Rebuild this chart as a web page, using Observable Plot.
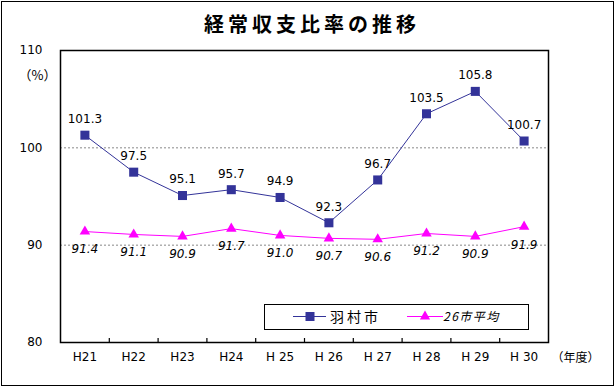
<!DOCTYPE html>
<html><head><meta charset="utf-8">
<script src="https://cdn.jsdelivr.net/npm/d3@7"></script>
<script src="https://cdn.jsdelivr.net/npm/@observablehq/plot@0.6"></script>
<style>
body{margin:0;background:#fff;}
#wrap{position:relative;width:616px;height:389px;overflow:hidden;}
#wrap svg.plot{position:absolute;left:0;top:0;}
#border{position:absolute;left:1px;top:1px;width:613px;height:385px;border:1.5px solid #000;box-sizing:border-box;pointer-events:none;}
#legend{position:absolute;left:264px;top:304px;width:265px;height:26px;border:1.5px solid #000;box-sizing:border-box;background:#fff;}
#title{position:absolute;left:0;width:616px;top:10px;text-align:center;font-family:'Noto Sans CJK JP',sans-serif;font-weight:bold;font-size:20px;letter-spacing:4px;padding-left:8px;box-sizing:border-box;line-height:28px;}
</style></head><body><div id="wrap"><div id="border"></div></div>
<script>
const title = "経常収支比率の推移";
const years = ["H21","H22","H23","H24","H 25","H 26","H 27","H 28","H 29","H 30"];
const hamura = [101.3, 97.5, 95.1, 95.7, 94.9, 92.3, 96.7, 103.5, 105.8, 100.7];
const avg26 = [91.4, 91.1, 90.9, 91.7, 91.0, 90.7, 90.6, 91.2, 90.9, 91.9];
const yTicks = [80, 90, 100, 110];
const gridLines = [90, 100];
const seriesNames = ["羽村市", "26市平均"];
const colors = ["#333399", "#ff00ff"];
const yUnit = "（%）";
const xUnit = "（年度）";

const font = "'DejaVu Sans', 'Noto Sans CJK JP', sans-serif";
const cjk = "'Noto Sans CJK JP', sans-serif";
const dataA = years.map((y, i) => ({i: i + 0.5, v: hamura[i]}));
const dataB = years.map((y, i) => ({i: i + 0.5, v: avg26[i]}));
const bounds = d3.range(1, years.length);

const chart = Plot.plot({
  width: 616, height: 389,
  marginLeft: 60, marginRight: 68, marginTop: 50, marginBottom: 47,
  style: {fontFamily: font, fontSize: "12px", background: "transparent", overflow: "visible"},
  x: {domain: [0, years.length]},
  y: {domain: [80, 110]},
  marks: [
    Plot.ruleY(gridLines, {stroke: "#888", strokeDasharray: "2,2", strokeWidth: 1}),
    Plot.axisY({ticks: yTicks, tickSize: 0, tickPadding: 18, fontSize: 12, label: null, fill: "#000"}),
    Plot.axisX({ticks: bounds, tickSize: -4, tickFormat: () => "", label: null, strokeWidth: 1.2}),
    Plot.axisX({ticks: years.map((y, i) => i + 0.5), tickSize: 0, tickPadding: 10,
      tickFormat: d => years[Math.floor(d)], fontSize: 12, label: null}),
    Plot.frame({stroke: "#000", strokeWidth: 1.5}),
    Plot.line(dataB, {x: "i", y: "v", stroke: colors[1], strokeWidth: 1}),
    Plot.dot(dataB, {x: "i", y: "v", symbol: "triangle", r: 3.9, fill: colors[1], stroke: "none"}),
    Plot.text(dataB, {x: "i", y: "v", text: d => d.v.toFixed(1), dy: 18, fontStyle: "italic", fontSize: 12, fill: "#000"}),
    Plot.line(dataA, {x: "i", y: "v", stroke: colors[0], strokeWidth: 1}),
    Plot.dot(dataA, {x: "i", y: "v", symbol: "square", r: 5.1, fill: colors[0], stroke: "none"}),
    Plot.text(dataA, {x: "i", y: "v", text: d => d.v.toFixed(1), dy: -16, fontSize: 12, fill: "#000"}),
    Plot.text([yUnit], {frameAnchor: "top-left", dx: -4, dy: 20, textAnchor: "end", fontSize: 13, fill: "#000", fontFamily: cjk}),
    Plot.text([xUnit], {frameAnchor: "bottom-right", dx: 3, dy: 16, textAnchor: "start", fontSize: 12, fill: "#000", lineAnchor: "middle", fontFamily: cjk})
  ]
});
chart.classList.add("plot");
const wrap = document.getElementById("wrap");
wrap.insertBefore(chart, wrap.firstChild);

const t = document.createElement("div");
t.id = "title";
t.textContent = title;
wrap.appendChild(t);

// legend
const leg = document.createElement("div");
leg.id = "legend";
wrap.appendChild(leg);
const ls = d3.select(leg).append("svg").attr("width", 262).attr("height", 23)
  .style("position", "absolute").style("left", "0").style("top", "0");
const cy = 11.5;
ls.append("line").attr("x1", 28).attr("x2", 61).attr("y1", cy).attr("y2", cy).attr("stroke", colors[0]);
ls.append("rect").attr("x", 40.5).attr("y", cy - 4.5).attr("width", 9).attr("height", 9).attr("fill", colors[0]);
ls.append("text").attr("x", 65).attr("y", cy).attr("dy", "0.36em").attr("font-size", 14)
  .attr("font-family", cjk).style("letter-spacing", "3px").text(seriesNames[0]);
ls.append("line").attr("x1", 142).attr("x2", 178).attr("y1", cy).attr("y2", cy).attr("stroke", colors[1]);
ls.append("path").attr("d", d3.symbol(d3.symbolTriangle, 45)()).attr("transform", `translate(160,${cy})`).attr("fill", colors[1]);
ls.append("text").attr("x", 178).attr("y", cy).attr("dy", "0.36em").attr("font-size", 12)
  .attr("font-family", cjk).attr("font-style", "italic").style("letter-spacing", "1.5px").text(seriesNames[1]);
</script>
</body></html>
